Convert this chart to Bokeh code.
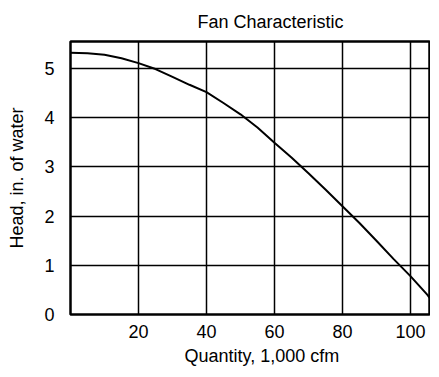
from bokeh.plotting import figure
from bokeh.models import Range1d, FixedTicker, Title
from bokeh.embed import file_html
from bokeh.resources import INLINE

quantity = [0, 5, 10, 15, 20, 25, 30, 35, 40, 45, 50, 55, 60, 65, 70, 75,
            80, 85, 90, 95, 100, 105, 108]
head = [5.32, 5.31, 5.28, 5.21, 5.11, 4.99, 4.83, 4.67, 4.52, 4.30, 4.07,
        3.80, 3.49, 3.19, 2.87, 2.54, 2.20, 1.86, 1.50, 1.13, 0.78, 0.40, 0.11]
x_ticks = [20, 40, 60, 80, 100]
y_ticks = [0, 1, 2, 3, 4, 5]
title_text = "Fan Characteristic"
x_label = "Quantity, 1,000 cfm"
y_label = "Head, in. of water"

FONT = "Liberation Sans"

p = figure(width=430, height=368, output_backend="svg", toolbar_location=None,
           x_range=Range1d(0, 105.9), y_range=Range1d(0, 5.55),
           min_border_left=70, min_border_right=0, min_border_top=35,
           min_border_bottom=53)

p.line(quantity, head, line_color="black", line_width=2)

p.title.text = ""
p.add_layout(Title(text=title_text, align="left", offset=127,
                   text_font=FONT, text_font_size="18px", text_font_style="normal",
                   text_color="black", standoff=19), "above")
p.add_layout(Title(text=x_label, align="left", offset=114,
                   text_font=FONT, text_font_size="18px", text_font_style="normal",
                   text_color="black", standoff=6), "below")

p.xaxis.ticker = FixedTicker(ticks=x_ticks)
p.yaxis.ticker = FixedTicker(ticks=y_ticks)
p.xgrid.ticker = FixedTicker(ticks=x_ticks)
p.ygrid.ticker = FixedTicker(ticks=y_ticks[1:])

for ax in (p.xaxis, p.yaxis):
    ax.axis_line_color = None
    ax.major_tick_line_color = None
    ax.minor_tick_line_color = None
    ax.major_label_text_font = FONT
    ax.major_label_text_font_size = "18px"
    ax.major_label_text_color = "black"
    ax.axis_label_text_font = FONT
    ax.axis_label_text_font_size = "18px"
    ax.axis_label_text_font_style = "normal"
    ax.axis_label_text_color = "black"

p.xaxis.major_label_standoff = 4
p.yaxis.major_label_standoff = 10
p.yaxis.axis_label = y_label
p.yaxis.axis_label_standoff = 14

p.grid.grid_line_color = "black"
p.grid.grid_line_width = 1.5
p.grid.grid_line_alpha = 1.0

p.outline_line_color = "black"
p.outline_line_width = 2.5
p.background_fill_color = "white"
p.border_fill_color = "white"

open("out.html", "w").write(file_html(p, INLINE))
